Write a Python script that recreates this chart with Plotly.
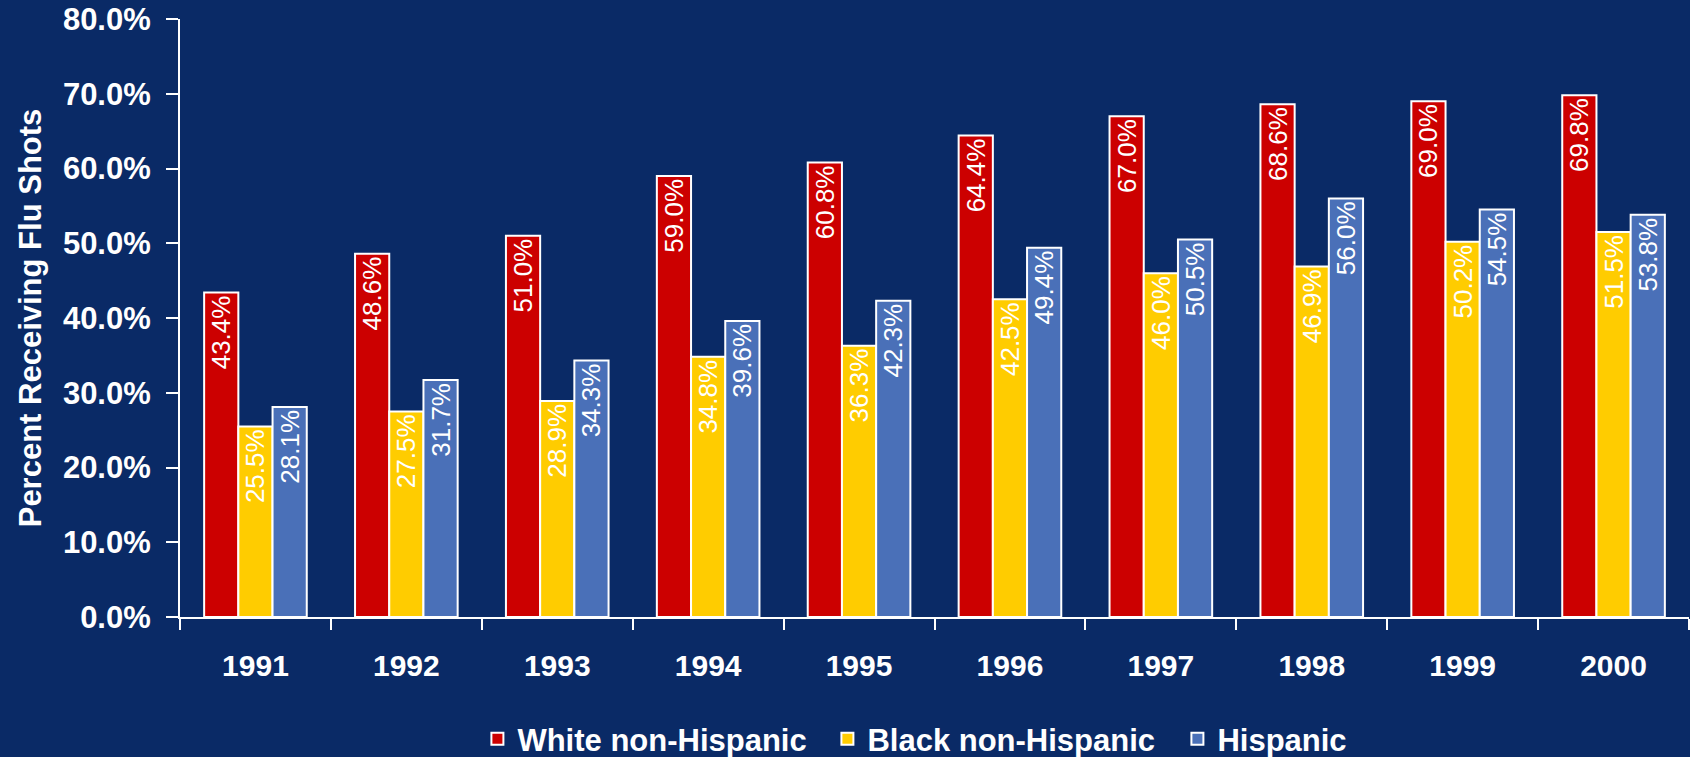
import plotly.graph_objects as go

years = ["1991", "1992", "1993", "1994", "1995", "1996", "1997", "1998", "1999", "2000"]
white = [43.4, 48.6, 51.0, 59.0, 60.8, 64.4, 67.0, 68.6, 69.0, 69.8]
black = [25.5, 27.5, 28.9, 34.8, 36.3, 42.5, 46.0, 46.9, 50.2, 51.5]
hispanic = [28.1, 31.7, 34.3, 39.6, 42.3, 49.4, 50.5, 56.0, 54.5, 53.8]
series_names = ["White non-Hispanic", "Black non-Hispanic", "Hispanic"]
colors = ["#CC0000", "#FFCC00", "#4A70B8"]
ytickvals = [0, 10, 20, 30, 40, 50, 60, 70, 80]
yticktext = ["0.0%", "10.0%", "20.0%", "30.0%", "40.0%", "50.0%", "60.0%", "70.0%", "80.0%"]

BG = "#0A2A66"
FONT = "Liberation Sans, Arial, sans-serif"
NARROW = "Liberation Sans Narrow, Arial Narrow, Liberation Sans, sans-serif"

fig = go.Figure()
for name, vals, col in zip(series_names, [white, black, hispanic], colors):
    fig.add_trace(go.Bar(
        x=years, y=vals, name=name,
        marker=dict(color=col, line=dict(color="white", width=2)),
        texttemplate="%{y:.1f}%",
        textposition="inside",
        insidetextanchor="end",
        textangle=-90,
        constraintext="none",
        textfont=dict(family=NARROW, size=26, color="white"),
    ))

fig.update_layout(
    width=1690, height=757,
    paper_bgcolor=BG, plot_bgcolor=BG,
    barmode="group", bargap=0.32, bargroupgap=0,
    margin=dict(l=180, r=1, t=19, b=140, autoexpand=False),
    font=dict(family=FONT, color="white"),
    showlegend=True,
    legend=dict(orientation="h", x=0.545, xanchor="center", y=-0.204, yanchor="middle",
                font=dict(family=FONT, size=31, color="white", weight="bold"),
                entrywidth=305, itemwidth=30,
                bgcolor="rgba(0,0,0,0)"),
    xaxis=dict(
        type="category", range=[-0.5, 9.5], automargin=False,
        showline=True, linecolor="white", linewidth=2,
        ticks="outside", tickson="boundaries", ticklen=11, tickwidth=2, tickcolor="white",
        ticklabelstandoff=21,
        tickfont=dict(family=FONT, size=30, color="white", weight="bold"),
        showgrid=False, zeroline=False,
    ),
    yaxis=dict(
        range=[0, 80], tickvals=ytickvals, ticktext=yticktext, automargin=False,
        showline=True, linecolor="white", linewidth=2,
        ticks="outside", ticklen=12, tickwidth=2, tickcolor="white",
        ticklabelstandoff=9,
        tickfont=dict(family=FONT, size=31, color="white", weight="bold"),
        showgrid=False, zeroline=False,
        title=dict(text="Percent Receiving Flu Shots", standoff=12,
                   font=dict(family=FONT, size=31, color="white", weight="bold")),
    ),
)

fig.write_html("out.html")
